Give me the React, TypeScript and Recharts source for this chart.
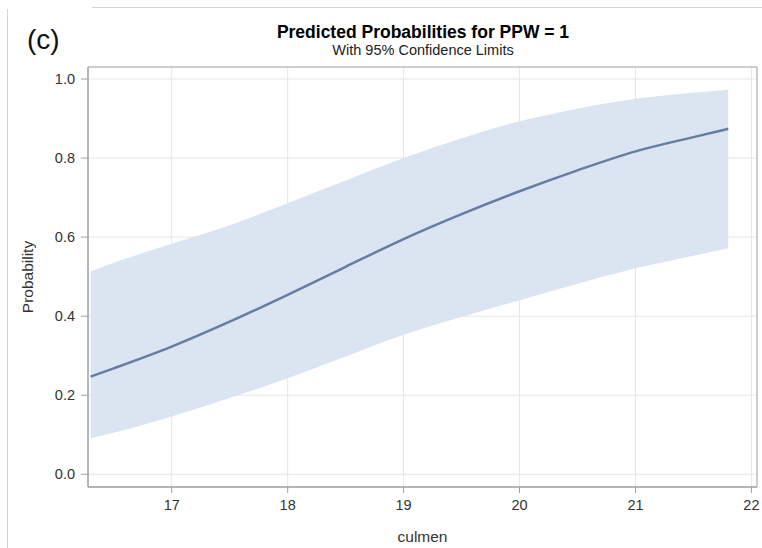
import React from "react";
import {
  ComposedChart,
  Area,
  Line,
  XAxis,
  YAxis,
  CartesianGrid,
  ReferenceArea,
} from "recharts";

// culmen values where the fitted curve was evaluated
const culmen = [16.3, 16.5, 17, 17.5, 18, 18.5, 19, 19.5, 20, 20.5, 21, 21.5, 21.8];
// predicted probability of PPW = 1
const predicted = [0.247, 0.268, 0.323, 0.386, 0.454, 0.525, 0.595, 0.658, 0.716, 0.769, 0.817, 0.853, 0.874];
// 95% confidence limits
const lowerCL = [0.091, 0.105, 0.146, 0.193, 0.243, 0.298, 0.353, 0.398, 0.44, 0.482, 0.521, 0.553, 0.572];
const upperCL = [0.513, 0.535, 0.583, 0.63, 0.686, 0.743, 0.8, 0.85, 0.893, 0.925, 0.95, 0.965, 0.973];

const xTicks = [17, 18, 19, 20, 21, 22];
const yTicks = [0, 0.2, 0.4, 0.6, 0.8, 1.0];

const X_DOMAIN: [number, number] = [16.278, 22.048];
const Y_DOMAIN: [number, number] = [-0.0322, 1.0304];

const rows = culmen.map((c, i) => ({
  culmen: c,
  pred: predicted[i],
  band: [lowerCL[i], upperCL[i]],
}));

const FONT = "'Liberation Sans', Arial, sans-serif";
const tickStyle = { fontSize: 14.5, fill: "#333", fontFamily: FONT };
const labelStyle = { fontSize: 15.5, fill: "#333", fontFamily: FONT };

export default function App() {
  return (
    <div
      style={{
        position: "absolute",
        left: 0,
        top: 0,
        width: 762,
        height: 548,
        background: "#fff",
        fontFamily: FONT,
      }}
    >
      {/* outer panel edges */}
      <div style={{ position: "absolute", left: 7, top: 9, width: 1, height: 539, background: "#d4d4d4" }} />
      <div style={{ position: "absolute", left: 92, top: 7, width: 670, height: 1, background: "#d4d4d4" }} />
      <div style={{ position: "absolute", left: 27, top: 25, fontSize: 28, color: "#111", lineHeight: "30px" }}>(c)</div>
      <div
        style={{
          position: "absolute",
          left: 88,
          width: 670,
          top: 22,
          textAlign: "center",
          fontSize: 17.5,
          fontWeight: "bold",
          color: "#000",
          lineHeight: "20px",
        }}
      >
        Predicted Probabilities for PPW = 1
      </div>
      <div
        style={{
          position: "absolute",
          left: 88,
          width: 670,
          top: 42,
          textAlign: "center",
          fontSize: 14.5,
          color: "#222",
          lineHeight: "17px",
        }}
      >
        With 95% Confidence Limits
      </div>
      <div style={{ position: "absolute", left: 0, top: 0 }}>
        <ComposedChart
          width={762}
          height={548}
          data={rows}
          margin={{ top: 67, right: 5, bottom: 0, left: 0 }}
        >
          <CartesianGrid stroke="#e6e6e6" strokeWidth={1} />
          <XAxis
            dataKey="culmen"
            type="number"
            domain={X_DOMAIN}
            ticks={xTicks}
            allowDataOverflow
            height={61}
            tickSize={6}
            tickMargin={7}
            tick={tickStyle}
            stroke="#9aa0a6"
            tickFormatter={(v) => String(v)}
            label={{ value: "culmen", position: "insideBottom", offset: 6, style: labelStyle }}
          />
          <YAxis
            type="number"
            domain={Y_DOMAIN}
            ticks={yTicks}
            allowDataOverflow
            width={88}
            tickSize={7}
            tickMargin={6}
            tick={tickStyle}
            stroke="#9aa0a6"
            tickFormatter={(v) => Number(v).toFixed(1)}
            label={{
              value: "Probability",
              angle: -90,
              position: "insideLeft",
              offset: 27,
              style: { ...labelStyle, textAnchor: "middle" },
            }}
          />
          <Area
            dataKey="band"
            type="monotone"
            stroke="none"
            fill="#dbe5f1"
            fillOpacity={1}
            isAnimationActive={false}
          />
          <Line
            dataKey="pred"
            type="monotone"
            stroke="#667ca3"
            strokeWidth={2.5}
            dot={false}
            isAnimationActive={false}
          />
          <ReferenceArea
            x1={X_DOMAIN[0]}
            x2={X_DOMAIN[1]}
            y1={Y_DOMAIN[0]}
            y2={Y_DOMAIN[1]}
            fill="none"
            stroke="#a3a8ad"
            strokeWidth={1}
            ifOverflow="extendDomain"
          />
        </ComposedChart>
      </div>
    </div>
  );
}
